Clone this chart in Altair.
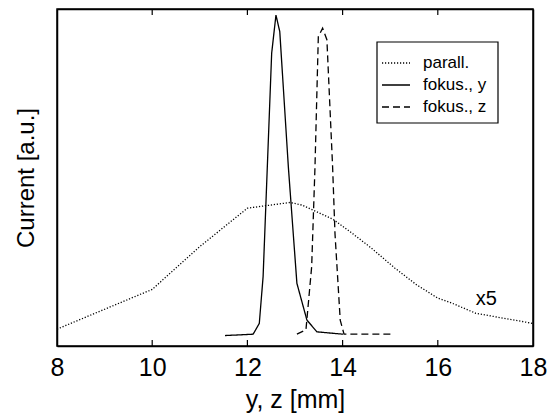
import altair as alt
import pandas as pd

FONT = "Liberation Sans"

# parallel beam profile (x5)
par_x = [8.0, 10.0, 11.0, 12.0, 12.9, 13.15, 13.8, 14.15, 14.6, 15.1, 15.55, 16.0, 16.3, 16.8, 17.4, 18.0]
par_y = [5.0, 16.8, 29.5, 40.9, 42.6, 41.8, 37.6, 34.0, 29.1, 23.1, 18.2, 14.2, 12.7, 9.7, 8.2, 6.7]

# focused, y
fy_x = [11.53, 12.12, 12.25, 12.33, 12.51, 12.60, 12.68, 12.86, 13.04, 13.25, 13.46, 14.01]
fy_y = [3.1, 3.5, 6.7, 20.6, 86.9, 98.2, 93.3, 53.2, 18.6, 7.7, 4.2, 3.5]

# focused, z
fz_x = [13.04, 13.23, 13.35, 13.42, 13.49, 13.58, 13.67, 13.79, 13.84, 13.95, 14.03, 15.03]
fz_y = [3.5, 4.8, 23.5, 53.2, 91.8, 94.3, 90.9, 53.2, 33.4, 7.7, 3.5, 3.5]

series = ["parall.", "fokus., y", "fokus., z"]
dashes = [[1.2, 1.8], [1, 0], [7, 4]]

x_ticks = [8, 10, 12, 14, 16, 18]
inner_ticks = [10, 12, 14, 16]

xscale = alt.Scale(domain=[8, 18], nice=False, zero=False)
yscale = alt.Scale(domain=[0, 100], nice=False, zero=False)

xaxis = alt.Axis(values=x_ticks, title="y, z [mm]", grid=False, domain=True,
                 domainColor="black", domainWidth=1.5, ticks=False,
                 labelFontSize=25, labelFont=FONT, labelPadding=9, labelFlush=False,
                 labelOverlap=False, labelColor="black",
                 titleFontSize=25, titleFont=FONT, titleFontWeight="normal",
                 titlePadding=7, titleColor="black")
yaxis = alt.Axis(labels=False, ticks=False, grid=False, domain=True,
                 domainColor="black", domainWidth=1.5,
                 title="Current [a.u.]", titleFontSize=24, titleFont=FONT,
                 titleFontWeight="normal", titlePadding=19, titleColor="black")
top_axis = alt.Axis(orient="top", labels=False, ticks=False, grid=False, domain=True,
                    domainColor="black", domainWidth=1.5, title="")
right_axis = alt.Axis(orient="right", labels=False, ticks=False, grid=False, domain=True,
                      domainColor="black", domainWidth=1.5, title="")

one = pd.DataFrame({"k": [0]})

frame = alt.Chart(one).mark_rect(
    fillOpacity=0, stroke="black", strokeWidth=1.5).encode(
    x=alt.value(0), x2=alt.value(476), y=alt.value(0), y2=alt.value(337))

ticks_df = pd.DataFrame({"t": inner_ticks})
bottom_ticks = alt.Chart(ticks_df).mark_rule(color="black", strokeWidth=1.2).encode(
    x=alt.X("t:Q", scale=xscale, axis=None), y=alt.value(337), y2=alt.value(331))
top_ticks = alt.Chart(ticks_df).mark_rule(color="black", strokeWidth=1.2).encode(
    x=alt.X("t:Q", scale=xscale, axis=top_axis), y=alt.value(0), y2=alt.value(6))

curve_layers = []
for i, (name, xs, ys, dash) in enumerate(zip(series, [par_x, fy_x, fz_x], [par_y, fy_y, fz_y], dashes)):
    d = pd.DataFrame({"x": xs, "y": ys})
    if i == 0:
        enc_x = alt.X("x:Q", scale=xscale, axis=xaxis)
        enc_y = alt.Y("y:Q", scale=yscale, axis=yaxis)
    else:
        enc_x = alt.X("x:Q", scale=xscale, axis=None)
        enc_y = alt.Y("y:Q", scale=yscale, axis=None)
    curve_layers.append(
        alt.Chart(d).mark_line(color="black", strokeWidth=1.3, strokeDash=dash).encode(x=enc_x, y=enc_y)
    )

# legend box with samples
legend_layers = [
    alt.Chart(one).mark_rect(fill="white", stroke="black", strokeWidth=1.2).encode(
        x=alt.value(320), x2=alt.value(441), y=alt.value(33), y2=alt.value(114))
]
for i, (name, dash) in enumerate(zip(series, dashes)):
    yy = 54 + 22 * i
    legend_layers.append(
        alt.Chart(one).mark_rule(color="black", strokeWidth=1.3, strokeDash=dash).encode(
            x=alt.value(325), x2=alt.value(353), y=alt.value(yy)))
    legend_layers.append(
        alt.Chart(one).mark_text(font=FONT, fontSize=17, color="black",
                                 align="left", baseline="middle").encode(
            x=alt.value(366), y=alt.value(yy), text=alt.value(name)))

label_df = pd.DataFrame({"x": [17.02], "y": [13.9], "txt": ["x5"]})
label = alt.Chart(label_df).mark_text(font=FONT, fontSize=20, color="black",
                                      align="center", baseline="middle").encode(
    x=alt.X("x:Q", scale=xscale, axis=None),
    y=alt.Y("y:Q", scale=yscale, axis=right_axis), text="txt:N")

chart = alt.layer(*curve_layers, frame, bottom_ticks, top_ticks, label, *legend_layers).properties(
    width=476, height=337,
    background="white",
    autosize=alt.AutoSizeParams(type="none"),
    padding={"left": 57, "top": 9, "right": 15, "bottom": 73},
).resolve_axis(x="independent", y="independent")

chart.save("out.html", embed_options={"renderer": "svg", "actions": False})
